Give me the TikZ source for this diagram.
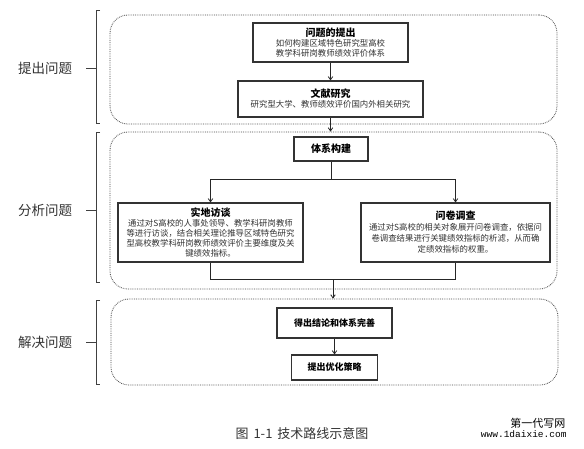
\documentclass[tikz,border=0pt]{standalone}
\usepackage{fontspec}
\setmainfont{Noto Sans CJK SC}
\setmonofont{Liberation Mono}
\usetikzlibrary{arrows.meta}

\begin{document}
\begin{tikzpicture}[x=1pt,y=-1pt,>={Straight Barb[length=3.2pt,width=4.5pt]},
    zone/.style={draw=black!70,densely dotted,line width=0.8pt,rounded corners=18pt},
    stepbox/.style={draw=black!80,line width=1.1pt,align=center,inner sep=1pt,
        font=\fontsize{8.4}{10}\selectfont,text=black!80},
    phase/.style={font=\fontsize{13.5}{14}\selectfont,text=black!80},
    link/.style={line width=0.8pt,black!85}]
    \useasboundingbox[fill=white] (0,0) rectangle (584,448);

    % stages of the route
    \node[zone,minimum width=447pt,minimum height=109pt] (zone1) at (333.5,69.5) {};
    \node[zone,minimum width=447pt,minimum height=157pt] (zone2) at (333.5,210.5) {};
    \node[zone,minimum width=447pt,minimum height=86pt] (zone3) at (334.5,342) {};

    \node[phase] (ask) at (45,68) {提出问题};
    \node[phase] (analyse) at (45,210) {分析问题};
    \node[phase] (solve) at (45,342) {解决问题};
    \foreach \top/\bot/\mid in {10/123/68,132/282/210,300/384/342}
        \draw[line width=0.8pt,black!75] (100,\top) -- (96,\top) -- (96,\bot) -- (100,\bot)
            (86,\mid) -- (96,\mid);

    % boxes
    \node[stepbox,minimum width=155pt,minimum height=39pt] (question) at (330.5,42.5)
        {{\fontsize{10}{12}\selectfont\bfseries\color{black}问题的提出}\\
         如何构建区域特色研究型高校\\
         教学科研岗教师绩效评价体系};
    \node[stepbox,minimum width=185pt,minimum height=36pt] (review) at (330.5,99)
        {{\fontsize{10}{12}\selectfont\bfseries\color{black}文献研究}\\
         研究型大学、教师绩效评价国内外相关研究};
    \node[stepbox,minimum width=74pt,minimum height=24pt,
        font=\fontsize{10}{12}\selectfont\bfseries,text=black] (build) at (331,149)
        {体系构建};
    \node[stepbox,minimum width=185pt,minimum height=59pt] (interview) at (210.5,232.5)
        {{\fontsize{10}{12}\selectfont\bfseries\color{black}实地访谈}\\
         通过对S高校的人事处领导、教学科研岗教师\\
         等进行访谈，结合相关理论推导区域特色研究\\
         型高校教学科研岗教师绩效评价主要维度及关\\
         键绩效指标。};
    \node[stepbox,minimum width=189pt,minimum height=59pt,
        font=\fontsize{8.4}{11}\selectfont] (survey) at (455.5,232.5)
        {{\fontsize{10}{12}\selectfont\bfseries\color{black}问卷调查}\\
         通过对S高校的相关对象展开问卷调查，依据问\\
         卷调查结果进行关键绩效指标的析滤，从而确\\
         定绩效指标的权重。};
    \node[stepbox,minimum width=115pt,minimum height=30pt,
        font=\fontsize{9}{11}\selectfont\bfseries,text=black] (result) at (334.5,323)
        {得出结论和体系完善};
    \node[stepbox,minimum width=86pt,minimum height=25pt,
        font=\fontsize{9}{11}\selectfont\bfseries,text=black] (strategy) at (334.5,367.5)
        {提出优化策略};

    % connectors
    \coordinate (split) at (331,179);
    \coordinate (merge) at (333,279);
    \draw[->,link] (question) -- (review);
    \draw[->,link] (review) -- (review |- zone2.north);
    \draw[link] (build) -- (split);
    \draw[->,link] (interview |- split) -- (survey |- split) -- (survey.north);
    \draw[->,link] (interview |- split) -- (interview.north);
    \draw[link] (interview.south) -- (interview |- merge) -- (survey |- merge) -- (survey.south);
    \draw[->,link] (merge) -- (merge |- zone3.north);
    \draw[->,link] (result) -- (strategy);

    \node[font=\fontsize{13}{14}\selectfont,text=black!80] (caption) at (302,433)
        {图\hspace{5pt}1-1\hspace{5pt}技术路线示意图};
    \node[font=\fontsize{11}{12}\selectfont,anchor=east] (mark) at (569,423) {第一代写网};
    \node[font=\fontsize{9.5}{11}\ttfamily,anchor=east] (site) at (570,434) {www.1daixie.com};
\end{tikzpicture}
\end{document}
